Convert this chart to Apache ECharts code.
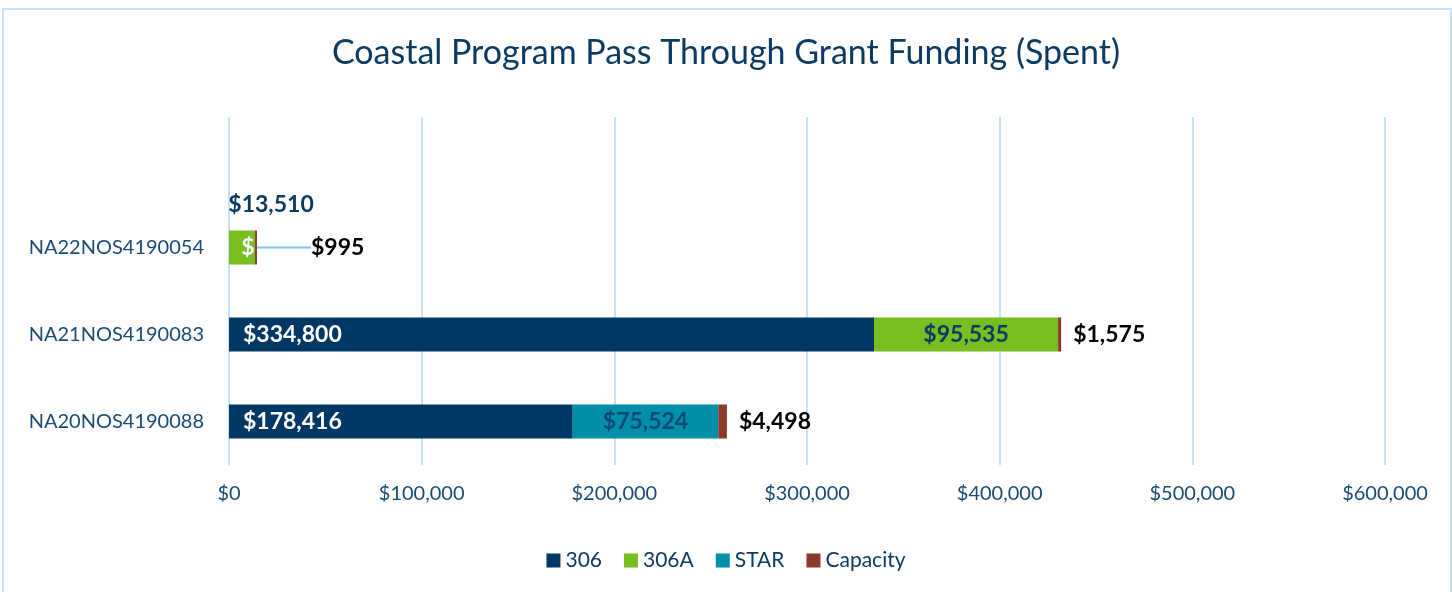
<!DOCTYPE html>
<html>
<head>
<meta charset="utf-8">
<script src="https://cdn.jsdelivr.net/npm/echarts@6/dist/echarts.min.js"></script>
<style>
  body { margin: 0; overflow: hidden; background: #fff; }
  #frame { position: absolute; left: 2px; top: 8px; width: 1446px; height: 600px; border: 2px solid #c6e2f7; }
  #main { position: absolute; left: 0; top: 0; width: 1452px; height: 592px; }
</style>
</head>
<body>
<div id="frame"></div>
<div id="main"></div>
<script>
// categories, bottom to top (top band is left empty like the original)
var grants = ['NA20NOS4190088', 'NA21NOS4190083', 'NA22NOS4190054', ''];
var s306 = [178416, 334800, '-', '-'];
var s306A = ['-', 95535, 13510, '-'];
var sStar = [75524, '-', '-', '-'];
var sCapacity = [4498, 1575, 995, '-'];
var xTicks = [0, 100000, 200000, 300000, 400000, 500000, 600000];

var font = 'Lato, "Open Sans", sans-serif';
var navy = '#0d3a63';

function money(v) {
  return '$' + Number(v).toLocaleString('en-US');
}

var chart = echarts.init(document.getElementById('main'));

var option = {
  textStyle: { fontFamily: font },
  title: {
    text: 'Coastal Program Pass Through Grant Funding (Spent)',
    left: 'center',
    top: 31,
    textStyle: { fontFamily: font, fontSize: 34, fontWeight: 'normal', color: navy }
  },
  legend: {
    bottom: 16,
    left: 'center',
    itemWidth: 14,
    itemHeight: 14,
    itemGap: 22,
    icon: 'rect',
    textStyle: { fontFamily: font, fontSize: 21, color: navy }
  },
  grid: { left: 229, right: 67, top: 117, bottom: 127 },
  xAxis: {
    type: 'value',
    min: xTicks[0],
    max: xTicks[xTicks.length - 1],
    interval: 100000,
    axisLine: { show: false },
    axisTick: { show: false },
    splitLine: { lineStyle: { color: '#c6e2f7', width: 2 } },
    axisLabel: {
      margin: 19,
      fontSize: 20,
      color: '#1c4a75',
      formatter: function (v) { return money(v); }
    }
  },
  yAxis: {
    type: 'category',
    data: grants,
    axisLine: { show: false },
    axisTick: { show: false },
    axisLabel: { margin: 25, fontSize: 20, color: '#1c4a75' }
  },
  series: [
    {
      name: '306',
      type: 'bar',
      stack: 'total',
      barWidth: 34,
      itemStyle: { color: '#003865' },
      label: {
        show: true,
        position: 'insideLeft',
        distance: 14,
        color: '#ffffff',
        fontSize: 23,
        fontWeight: 'bold',
        formatter: function (p) { return money(p.value); }
      },
      data: s306
    },
    {
      name: '306A',
      type: 'bar',
      stack: 'total',
      barWidth: 34,
      itemStyle: { color: '#78be20' },
      label: {
        show: true,
        position: 'inside',
        color: navy,
        fontSize: 23,
        fontWeight: 'bold',
        formatter: function (p) { return money(p.value); }
      },
      data: s306A.map(function (v, i) {
        if (i === 2) {
          return {
            value: v,
            label: { color: '#ffffff', width: 18, overflow: 'truncate', ellipsis: '', offset: [6, 0] }
          };
        }
        return v;
      }),
      markPoint: {
        symbol: 'circle',
        symbolSize: 0,
        data: [{ coord: [s306A[2], grants[2]], value: s306A[2] }],
        label: {
          show: true,
          offset: [16, -43],
          color: navy,
          fontSize: 23,
          fontWeight: 'bold',
          formatter: function (p) { return money(p.value); }
        }
      }
    },
    {
      name: 'STAR',
      type: 'bar',
      stack: 'total',
      barWidth: 34,
      itemStyle: { color: '#008fa8' },
      label: {
        show: true,
        position: 'inside',
        color: '#0d4a78',
        fontSize: 23,
        fontWeight: 'bold',
        formatter: function (p) { return money(p.value); }
      },
      data: sStar
    },
    {
      name: 'Capacity',
      type: 'bar',
      stack: 'total',
      barWidth: 34,
      itemStyle: { color: '#8b3a2a' },
      label: {
        show: true,
        position: 'right',
        distance: 12,
        color: '#000000',
        fontSize: 23,
        fontWeight: 'bold',
        formatter: function (p) { return money(p.value); }
      },
      labelLine: { show: false, lineStyle: { color: '#7cc4f2', width: 2 } },
      labelLayout: function (p) {
        return p.dataIndex === 2 ? { dx: 42 } : {};
      },
      data: sCapacity.map(function (v, i) {
        if (i === 2) {
          return { value: v, labelLine: { show: true, lineStyle: { color: '#7cc4f2', width: 2 } } };
        }
        return v;
      })
    }
  ]
};

chart.setOption(option);
</script>
</body>
</html>
